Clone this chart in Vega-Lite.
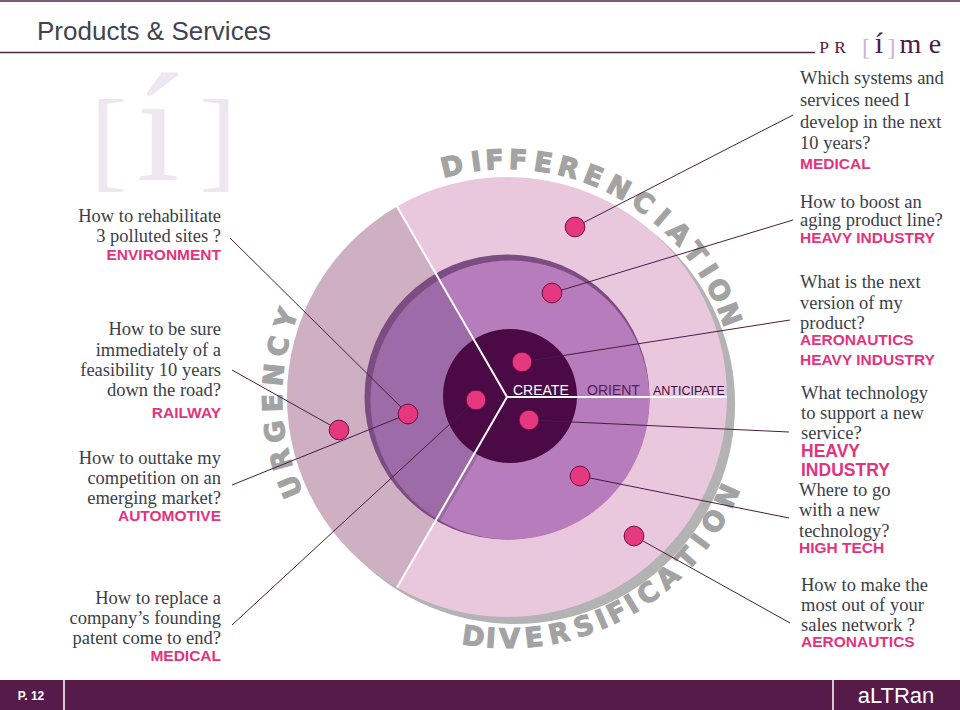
{
  "$schema": "https://vega.github.io/schema/vega-lite/v6.json",
  "width": 960,
  "height": 710,
  "padding": 0,
  "autosize": {"type": "none"},
  "background": "#ffffff",
  "config": {"view": {"stroke": null}},
  "datasets": {
    "wheel": [
      {"part": "shadow", "ring": "shadow", "x": 515, "y": 404, "r0": 0, "r": 220, "t0": 0, "t1": 360},
      {"part": "urgency outer", "ring": "outer", "x": 507, "y": 397, "r0": 0, "r": 220, "t0": 210, "t1": 330},
      {"part": "differenciation outer", "ring": "outer", "x": 507, "y": 397, "r0": 0, "r": 220, "t0": 330, "t1": 450},
      {"part": "diversification outer", "ring": "outer", "x": 507, "y": 397, "r0": 0, "r": 220, "t0": 90, "t1": 210},
      {"part": "rim", "ring": "rim", "x": 507, "y": 397, "r0": 0, "r": 142.5, "t0": 0, "t1": 360},
      {"part": "urgency middle", "ring": "middle", "x": 510, "y": 400, "r0": 0, "r": 139.5, "t0": 210, "t1": 330},
      {"part": "differenciation middle", "ring": "middle", "x": 510, "y": 400, "r0": 0, "r": 139.5, "t0": 330, "t1": 450},
      {"part": "diversification middle", "ring": "middle", "x": 510, "y": 400, "r0": 0, "r": 139.5, "t0": 90, "t1": 210},
      {"part": "core", "ring": "core", "x": 510, "y": 396, "r0": 0, "r": 67, "t0": 0, "t1": 360}
    ],
    "ringLetters": [
      {"word": "DIFFERENCIATION", "ch": "D", "th": -13.4, "r": 236, "x": 507, "y": 397},
      {"word": "DIFFERENCIATION", "ch": "I", "th": -7.5, "r": 236, "x": 507, "y": 397},
      {"word": "DIFFERENCIATION", "ch": "F", "th": -3.0, "r": 236, "x": 507, "y": 397},
      {"word": "DIFFERENCIATION", "ch": "F", "th": 2.7, "r": 236, "x": 507, "y": 397},
      {"word": "DIFFERENCIATION", "ch": "E", "th": 8.8, "r": 236, "x": 507, "y": 397},
      {"word": "DIFFERENCIATION", "ch": "R", "th": 15.0, "r": 236, "x": 507, "y": 397},
      {"word": "DIFFERENCIATION", "ch": "E", "th": 21.4, "r": 236, "x": 507, "y": 397},
      {"word": "DIFFERENCIATION", "ch": "N", "th": 28.1, "r": 236, "x": 507, "y": 397},
      {"word": "DIFFERENCIATION", "ch": "C", "th": 35.0, "r": 236, "x": 507, "y": 397},
      {"word": "DIFFERENCIATION", "ch": "I", "th": 40.8, "r": 236, "x": 507, "y": 397},
      {"word": "DIFFERENCIATION", "ch": "A", "th": 46.4, "r": 236, "x": 507, "y": 397},
      {"word": "DIFFERENCIATION", "ch": "T", "th": 52.6, "r": 236, "x": 507, "y": 397},
      {"word": "DIFFERENCIATION", "ch": "I", "th": 57.9, "r": 236, "x": 507, "y": 397},
      {"word": "DIFFERENCIATION", "ch": "O", "th": 63.3, "r": 236, "x": 507, "y": 397},
      {"word": "DIFFERENCIATION", "ch": "N", "th": 69.6, "r": 236, "x": 507, "y": 397},
      {"word": "URGENCY", "ch": "U", "th": 247.5, "r": 233, "x": 507, "y": 397},
      {"word": "URGENCY", "ch": "R", "th": 254.5, "r": 233, "x": 507, "y": 397},
      {"word": "URGENCY", "ch": "G", "th": 261.5, "r": 233, "x": 507, "y": 397},
      {"word": "URGENCY", "ch": "E", "th": 268.5, "r": 233, "x": 507, "y": 397},
      {"word": "URGENCY", "ch": "N", "th": 275.5, "r": 233, "x": 507, "y": 397},
      {"word": "URGENCY", "ch": "C", "th": 282.5, "r": 233, "x": 507, "y": 397},
      {"word": "URGENCY", "ch": "Y", "th": 289.5, "r": 233, "x": 507, "y": 397},
      {"word": "DIVERSIFICATION", "ch": "D", "th": 188.0, "r": 243, "x": 507, "y": 397},
      {"word": "DIVERSIFICATION", "ch": "I", "th": 183.8, "r": 243, "x": 507, "y": 397},
      {"word": "DIVERSIFICATION", "ch": "V", "th": 179.4, "r": 243, "x": 507, "y": 397},
      {"word": "DIVERSIFICATION", "ch": "E", "th": 173.6, "r": 243, "x": 507, "y": 397},
      {"word": "DIVERSIFICATION", "ch": "R", "th": 167.6, "r": 243, "x": 507, "y": 397},
      {"word": "DIVERSIFICATION", "ch": "S", "th": 161.5, "r": 243, "x": 507, "y": 397},
      {"word": "DIVERSIFICATION", "ch": "I", "th": 157.0, "r": 243, "x": 507, "y": 397},
      {"word": "DIVERSIFICATION", "ch": "F", "th": 153.0, "r": 243, "x": 507, "y": 397},
      {"word": "DIVERSIFICATION", "ch": "I", "th": 149.0, "r": 243, "x": 507, "y": 397},
      {"word": "DIVERSIFICATION", "ch": "C", "th": 144.3, "r": 243, "x": 507, "y": 397},
      {"word": "DIVERSIFICATION", "ch": "A", "th": 138.3, "r": 243, "x": 507, "y": 397},
      {"word": "DIVERSIFICATION", "ch": "T", "th": 131.8, "r": 243, "x": 507, "y": 397},
      {"word": "DIVERSIFICATION", "ch": "I", "th": 126.8, "r": 243, "x": 507, "y": 397},
      {"word": "DIVERSIFICATION", "ch": "O", "th": 121.0, "r": 243, "x": 507, "y": 397},
      {"word": "DIVERSIFICATION", "ch": "N", "th": 114.2, "r": 243, "x": 507, "y": 397}
    ],
    "leaders": [
      {"x": 230, "y": 238, "x2": 408, "y2": 414},
      {"x": 232, "y": 370, "x2": 339, "y2": 430},
      {"x": 232, "y": 485, "x2": 408, "y2": 414},
      {"x": 232, "y": 625, "x2": 476, "y2": 400},
      {"x": 575, "y": 227, "x2": 793, "y2": 115},
      {"x": 552, "y": 293, "x2": 793, "y2": 220},
      {"x": 522, "y": 362, "x2": 790, "y2": 320},
      {"x": 529, "y": 420, "x2": 789, "y2": 432},
      {"x": 580, "y": 476, "x2": 789, "y2": 518},
      {"x": 634, "y": 536, "x2": 790, "y2": 623}
    ],
    "dots": [
      {"x": 575, "y": 227}, {"x": 552, "y": 293}, {"x": 522, "y": 362},
      {"x": 476, "y": 400}, {"x": 529, "y": 420}, {"x": 339, "y": 430},
      {"x": 408, "y": 414}, {"x": 580, "y": 476}, {"x": 634, "y": 536}
    ],
    "center": [
      {"t": "CREATE", "x": 513, "y": 395},
      {"t": "ORIENT", "x": 587, "y": 395},
      {"t": "ANTICIPATE", "x": 653, "y": 395}
    ]
  },
  "encoding": {
    "x": {"field": "x", "type": "quantitative", "scale": {"domain": [0, 960], "nice": false, "zero": false}, "axis": null},
    "y": {"field": "y", "type": "quantitative", "scale": {"domain": [0, 710], "nice": false, "zero": false, "reverse": true}, "axis": null}
  },
  "layer": [
    {
      "data": {"values": [{"ch": "[", "x": 109, "y": 177}, {"ch": "]", "x": 218, "y": 177}]},
      "mark": {"type": "text", "font": "Liberation Serif", "fontSize": 112, "fill": "#eee6f1", "align": "center", "baseline": "alphabetic"},
      "encoding": {"text": {"field": "ch", "type": "nominal"}}
    },
    {
      "data": {"values": [{"ch": "í", "x": 158, "y": 180}]},
      "mark": {"type": "text", "font": "Liberation Serif", "fontSize": 155, "fill": "#eee6f1", "align": "center", "baseline": "alphabetic"},
      "encoding": {"text": {"field": "ch", "type": "nominal"}}
    },
    {
      "data": {"values": [{"x": 0, "y": 1, "x2": 960, "y2": 1}, {"x": 0, "y": 52.5, "x2": 815, "y2": 52.5}]},
      "mark": {"type": "rule", "stroke": "#522449", "strokeWidth": 1.6},
      "encoding": {"x2": {"field": "x2"}, "y2": {"field": "y2"}}
    },
    {
      "data": {"values": [{"t": "Products & Services", "x": 37, "y": 40}]},
      "mark": {"type": "text", "font": "Liberation Sans", "fontSize": 26, "fill": "#3f4450", "align": "left", "baseline": "alphabetic"},
      "encoding": {"text": {"field": "t", "type": "nominal"}}
    },
    {
      "data": {"values": [{"ch": "P", "x": 824, "y": 53.3}, {"ch": "R", "x": 840, "y": 53.3}]},
      "mark": {"type": "text", "font": "Liberation Serif", "fontSize": 17.5, "fill": "#4d1a45", "align": "center", "baseline": "alphabetic"},
      "encoding": {"text": {"field": "ch", "type": "nominal"}}
    },
    {
      "data": {"values": [{"ch": "[", "x": 866, "y": 55}, {"ch": "]", "x": 891.5, "y": 55}]},
      "mark": {"type": "text", "font": "Liberation Serif", "fontSize": 24, "fill": "#c9b5d3", "align": "center", "baseline": "alphabetic"},
      "encoding": {"text": {"field": "ch", "type": "nominal"}}
    },
    {
      "data": {"values": [{"ch": "í", "x": 879, "y": 53.3}]},
      "mark": {"type": "text", "font": "Liberation Serif", "fontSize": 30, "fill": "#4d1a55", "align": "center", "baseline": "alphabetic"},
      "encoding": {"text": {"field": "ch", "type": "nominal"}}
    },
    {
      "data": {"values": [{"ch": "m", "x": 910.5, "y": 53.3}, {"ch": "e", "x": 935, "y": 53.3}]},
      "mark": {"type": "text", "font": "Liberation Serif", "fontSize": 28, "fill": "#4d1a45", "align": "center", "baseline": "alphabetic"},
      "encoding": {"text": {"field": "ch", "type": "nominal"}}
    },
    {
      "data": {"name": "wheel"},
      "transform": [{"filter": "datum.ring === 'shadow'"}],
      "mark": {"type": "arc"},
      "encoding": {
        "theta": {"field": "t0", "type": "quantitative", "scale": {"domain": [0, 360], "range": [0, 6.283185307179586], "zero": false, "nice": false}, "stack": null},
        "theta2": {"field": "t1"},
        "radius": {"field": "r", "type": "quantitative", "scale": {"type": "linear", "domain": [0, 300], "range": [0, 300], "zero": false, "nice": false}},
        "radius2": {"field": "r0"},
        "color": {"field": "part", "type": "nominal", "legend": null, "scale": {"domain": ["shadow", "urgency outer", "differenciation outer", "diversification outer", "rim", "urgency middle", "differenciation middle", "diversification middle", "core"], "range": ["#b3b3b3", "#cfb0c3", "#e9c8dd", "#e9c8dd", "#7c4d83", "#9d6ba7", "#b67cbc", "#b67cbc", "#4b0946"]}}
      }
    },
    {
      "data": {"name": "wheel"},
      "transform": [{"filter": "datum.ring === 'outer'"}],
      "mark": {"type": "arc"},
      "encoding": {
        "theta": {"field": "t0", "type": "quantitative", "scale": {"domain": [0, 360], "range": [0, 6.283185307179586], "zero": false, "nice": false}, "stack": null},
        "theta2": {"field": "t1"},
        "radius": {"field": "r", "type": "quantitative", "scale": {"type": "linear", "domain": [0, 300], "range": [0, 300], "zero": false, "nice": false}},
        "radius2": {"field": "r0"},
        "color": {"field": "part", "type": "nominal", "legend": null, "scale": {"domain": ["shadow", "urgency outer", "differenciation outer", "diversification outer", "rim", "urgency middle", "differenciation middle", "diversification middle", "core"], "range": ["#b3b3b3", "#cfb0c3", "#e9c8dd", "#e9c8dd", "#7c4d83", "#9d6ba7", "#b67cbc", "#b67cbc", "#4b0946"]}}
      }
    },
    {
      "data": {"name": "wheel"},
      "transform": [{"filter": "datum.ring === 'rim'"}],
      "mark": {"type": "arc"},
      "encoding": {
        "theta": {"field": "t0", "type": "quantitative", "scale": {"domain": [0, 360], "range": [0, 6.283185307179586], "zero": false, "nice": false}, "stack": null},
        "theta2": {"field": "t1"},
        "radius": {"field": "r", "type": "quantitative", "scale": {"type": "linear", "domain": [0, 300], "range": [0, 300], "zero": false, "nice": false}},
        "radius2": {"field": "r0"},
        "color": {"field": "part", "type": "nominal", "legend": null, "scale": {"domain": ["shadow", "urgency outer", "differenciation outer", "diversification outer", "rim", "urgency middle", "differenciation middle", "diversification middle", "core"], "range": ["#b3b3b3", "#cfb0c3", "#e9c8dd", "#e9c8dd", "#7c4d83", "#9d6ba7", "#b67cbc", "#b67cbc", "#4b0946"]}}
      }
    },
    {
      "data": {"name": "wheel"},
      "transform": [{"filter": "datum.ring === 'middle'"}],
      "mark": {"type": "arc"},
      "encoding": {
        "theta": {"field": "t0", "type": "quantitative", "scale": {"domain": [0, 360], "range": [0, 6.283185307179586], "zero": false, "nice": false}, "stack": null},
        "theta2": {"field": "t1"},
        "radius": {"field": "r", "type": "quantitative", "scale": {"type": "linear", "domain": [0, 300], "range": [0, 300], "zero": false, "nice": false}},
        "radius2": {"field": "r0"},
        "color": {"field": "part", "type": "nominal", "legend": null, "scale": {"domain": ["shadow", "urgency outer", "differenciation outer", "diversification outer", "rim", "urgency middle", "differenciation middle", "diversification middle", "core"], "range": ["#b3b3b3", "#cfb0c3", "#e9c8dd", "#e9c8dd", "#7c4d83", "#9d6ba7", "#b67cbc", "#b67cbc", "#4b0946"]}}
      }
    },
    {
      "data": {"name": "wheel"},
      "transform": [{"filter": "datum.ring === 'core'"}],
      "mark": {"type": "arc"},
      "encoding": {
        "theta": {"field": "t0", "type": "quantitative", "scale": {"domain": [0, 360], "range": [0, 6.283185307179586], "zero": false, "nice": false}, "stack": null},
        "theta2": {"field": "t1"},
        "radius": {"field": "r", "type": "quantitative", "scale": {"type": "linear", "domain": [0, 300], "range": [0, 300], "zero": false, "nice": false}},
        "radius2": {"field": "r0"},
        "color": {"field": "part", "type": "nominal", "legend": null, "scale": {"domain": ["shadow", "urgency outer", "differenciation outer", "diversification outer", "rim", "urgency middle", "differenciation middle", "diversification middle", "core"], "range": ["#b3b3b3", "#cfb0c3", "#e9c8dd", "#e9c8dd", "#7c4d83", "#9d6ba7", "#b67cbc", "#b67cbc", "#4b0946"]}}
      }
    },
    {
      "data": {"values": [
        {"x": 507, "y": 397, "x2": 727, "y2": 397},
        {"x": 507, "y": 397, "x2": 397, "y2": 206.5},
        {"x": 507, "y": 397, "x2": 397, "y2": 587.5}
      ]},
      "mark": {"type": "rule", "stroke": "#ffffff", "strokeWidth": 2},
      "encoding": {"x2": {"field": "x2"}, "y2": {"field": "y2"}}
    },
    {
      "data": {"name": "ringLetters"},
      "transform": [{"filter": "datum.word === 'DIFFERENCIATION'"}],
      "mark": {"type": "text", "font": "DejaVu Sans", "fontWeight": "bold", "fontSize": 27, "fill": "#a3a3a3", "stroke": "#a3a3a3", "strokeWidth": 1.2, "align": "center", "baseline": "middle"},
      "encoding": {
        "theta": {"field": "th", "type": "quantitative", "scale": {"domain": [0, 360], "range": [0, 6.283185307179586], "zero": false, "nice": false}, "stack": null},
        "radius": {"field": "r", "type": "quantitative", "scale": {"type": "linear", "domain": [0, 300], "range": [0, 300], "zero": false, "nice": false}},
        "angle": {"field": "th", "type": "quantitative", "scale": {"domain": [0, 360], "range": [0, 360]}, "legend": null},
        "text": {"field": "ch", "type": "nominal"}
      }
    },
    {
      "data": {"name": "ringLetters"},
      "transform": [{"filter": "datum.word === 'URGENCY'"}],
      "mark": {"type": "text", "font": "DejaVu Sans", "fontWeight": "bold", "fontSize": 27, "fill": "#a3a3a3", "stroke": "#a3a3a3", "strokeWidth": 1.2, "align": "center", "baseline": "middle"},
      "encoding": {
        "theta": {"field": "th", "type": "quantitative", "scale": {"domain": [0, 360], "range": [0, 6.283185307179586], "zero": false, "nice": false}, "stack": null},
        "radius": {"field": "r", "type": "quantitative", "scale": {"type": "linear", "domain": [0, 300], "range": [0, 300], "zero": false, "nice": false}},
        "angle": {"field": "th", "type": "quantitative", "scale": {"domain": [0, 360], "range": [-360, 0]}, "legend": null},
        "text": {"field": "ch", "type": "nominal"}
      }
    },
    {
      "data": {"name": "ringLetters"},
      "transform": [{"filter": "datum.word === 'DIVERSIFICATION'"}],
      "mark": {"type": "text", "font": "DejaVu Sans", "fontWeight": "bold", "fontSize": 27, "fill": "#a3a3a3", "stroke": "#a3a3a3", "strokeWidth": 1.2, "align": "center", "baseline": "middle"},
      "encoding": {
        "theta": {"field": "th", "type": "quantitative", "scale": {"domain": [0, 360], "range": [0, 6.283185307179586], "zero": false, "nice": false}, "stack": null},
        "radius": {"field": "r", "type": "quantitative", "scale": {"type": "linear", "domain": [0, 300], "range": [0, 300], "zero": false, "nice": false}},
        "angle": {"field": "th", "type": "quantitative", "scale": {"domain": [0, 360], "range": [-180, 180]}, "legend": null},
        "text": {"field": "ch", "type": "nominal"}
      }
    },
    {
      "data": {"name": "leaders"},
      "mark": {"type": "rule", "stroke": "#4a1c43", "strokeWidth": 1},
      "encoding": {"x2": {"field": "x2"}, "y2": {"field": "y2"}}
    },
    {
      "data": {"name": "dots"},
      "mark": {"type": "point", "shape": "circle", "filled": true, "color": "#e6387e", "stroke": "#6e0f45", "strokeWidth": 1, "size": 390, "opacity": 1}
    },
    {
      "data": {"name": "center"},
      "transform": [{"filter": "datum.t === 'CREATE'"}],
      "mark": {"type": "text", "font": "Liberation Sans", "fontSize": 14, "fill": "#ffffff", "align": "left", "baseline": "alphabetic"},
      "encoding": {"text": {"field": "t", "type": "nominal"}}
    },
    {
      "data": {"name": "center"},
      "transform": [{"filter": "datum.t === 'ORIENT'"}],
      "mark": {"type": "text", "font": "Liberation Sans", "fontSize": 14, "fill": "#5a1c5e", "align": "left", "baseline": "alphabetic"},
      "encoding": {"text": {"field": "t", "type": "nominal"}}
    },
    {
      "data": {"name": "center"},
      "transform": [{"filter": "datum.t === 'ANTICIPATE'"}],
      "mark": {"type": "text", "font": "Liberation Sans", "fontSize": 12.5, "fill": "#3f0b3f", "align": "left", "baseline": "alphabetic"},
      "encoding": {"text": {"field": "t", "type": "nominal"}}
    },
    {
      "data": {"values": [
        {"t": "How to rehabilitate", "x": 221, "y": 216},
        {"t": "3 polluted sites ?", "x": 221, "y": 236},
        {"t": "How to be sure", "x": 221, "y": 329},
        {"t": "immediately of a", "x": 221, "y": 350},
        {"t": "feasibility 10 years", "x": 221, "y": 370},
        {"t": "down the road?", "x": 221, "y": 390},
        {"t": "How to outtake my", "x": 221, "y": 458},
        {"t": "competition on an", "x": 221, "y": 478},
        {"t": "emerging market? ", "x": 221, "y": 498},
        {"t": "How to replace a", "x": 221, "y": 598},
        {"t": "company’s founding", "x": 221, "y": 618},
        {"t": "patent come to end?", "x": 221, "y": 638}
      ]},
      "mark": {"type": "text", "font": "Liberation Serif", "fontSize": 18.5, "fill": "#3b3e48", "align": "right", "baseline": "middle"},
      "encoding": {"text": {"field": "t", "type": "nominal"}}
    },
    {
      "data": {"values": [
        {"t": "ENVIRONMENT", "x": 221, "y": 255},
        {"t": "RAILWAY", "x": 221, "y": 413},
        {"t": "AUTOMOTIVE", "x": 221, "y": 516},
        {"t": "MEDICAL", "x": 221, "y": 656}
      ]},
      "mark": {"type": "text", "font": "Liberation Sans", "fontWeight": "bold", "fontSize": 15.5, "fill": "#e2347e", "align": "right", "baseline": "middle"},
      "encoding": {"text": {"field": "t", "type": "nominal"}}
    },
    {
      "data": {"values": [
        {"t": "Which systems and", "x": 800, "y": 78},
        {"t": "services need I", "x": 800, "y": 100},
        {"t": "develop in the next", "x": 800, "y": 122},
        {"t": "10 years?", "x": 800, "y": 143},
        {"t": "How to boost an", "x": 800, "y": 202},
        {"t": "aging product line?", "x": 800, "y": 220},
        {"t": "What is the next", "x": 800, "y": 282},
        {"t": "version of my", "x": 800, "y": 303},
        {"t": "product?", "x": 800, "y": 323},
        {"t": "What technology", "x": 801, "y": 393},
        {"t": "to support a new", "x": 801, "y": 413},
        {"t": "service?", "x": 801, "y": 433},
        {"t": "Where to go", "x": 799, "y": 490},
        {"t": "with a new", "x": 799, "y": 510},
        {"t": "technology?", "x": 799, "y": 531},
        {"t": "How to make the", "x": 801, "y": 585},
        {"t": "most out of your", "x": 801, "y": 605},
        {"t": "sales network ?", "x": 801, "y": 625}
      ]},
      "mark": {"type": "text", "font": "Liberation Serif", "fontSize": 18.5, "fill": "#3b3e48", "align": "left", "baseline": "middle"},
      "encoding": {"text": {"field": "t", "type": "nominal"}}
    },
    {
      "data": {"values": [
        {"t": "MEDICAL", "x": 800, "y": 164},
        {"t": "HEAVY INDUSTRY", "x": 800, "y": 238},
        {"t": "AERONAUTICS", "x": 800, "y": 340},
        {"t": "HEAVY INDUSTRY", "x": 800, "y": 360},
        {"t": "HIGH TECH", "x": 799, "y": 548},
        {"t": "AERONAUTICS", "x": 801, "y": 642}
      ]},
      "mark": {"type": "text", "font": "Liberation Sans", "fontWeight": "bold", "fontSize": 15.5, "fill": "#e2347e", "align": "left", "baseline": "middle"},
      "encoding": {"text": {"field": "t", "type": "nominal"}}
    },
    {
      "data": {"values": [
        {"t": "HEAVY", "x": 801, "y": 452},
        {"t": "INDUSTRY", "x": 801, "y": 471}
      ]},
      "mark": {"type": "text", "font": "Liberation Sans", "fontWeight": "bold", "fontSize": 17.5, "fill": "#e2347e", "align": "left", "baseline": "middle"},
      "encoding": {"text": {"field": "t", "type": "nominal"}}
    },
    {
      "data": {"values": [{"x": 0, "x2": 960, "y": 680, "y2": 710}]},
      "mark": {"type": "rect", "fill": "#561b48"},
      "encoding": {"x2": {"field": "x2"}, "y2": {"field": "y2"}}
    },
    {
      "data": {"values": [{"x": 64, "y": 680, "x2": 64, "y2": 710}, {"x": 833, "y": 680, "x2": 833, "y2": 710}]},
      "mark": {"type": "rule", "stroke": "#ffffff", "strokeWidth": 1.5},
      "encoding": {"x2": {"field": "x2"}, "y2": {"field": "y2"}}
    },
    {
      "data": {"values": [{"t": "P. 12", "x": 31, "y": 696}]},
      "mark": {"type": "text", "font": "Liberation Sans", "fontWeight": "bold", "fontSize": 12, "fill": "#ffffff", "align": "center", "baseline": "middle"},
      "encoding": {"text": {"field": "t", "type": "nominal"}}
    },
    {
      "data": {"values": [{"t": "aLTRan", "x": 896, "y": 696}]},
      "mark": {"type": "text", "font": "Liberation Sans", "fontSize": 22, "fill": "#ffffff", "align": "center", "baseline": "middle"},
      "encoding": {"text": {"field": "t", "type": "nominal"}}
    }
  ],
  "resolve": {"scale": {"angle": "independent"}}
}
